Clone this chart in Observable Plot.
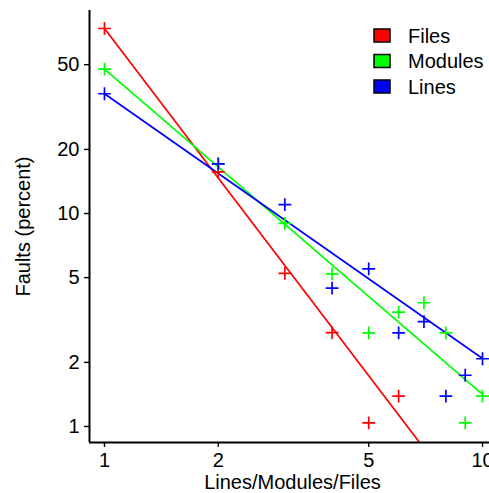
<!DOCTYPE html>
<html><head><meta charset="utf-8">
<script src="https://cdn.jsdelivr.net/npm/d3@7"></script>
<script src="https://cdn.jsdelivr.net/npm/@observablehq/plot@0.6"></script>
<style>
body{margin:0;background:#fff;overflow:hidden;font-family:"Liberation Sans",Arial,sans-serif;}
#chart{position:relative;width:489px;height:493px;}
</style></head><body><div id="chart"></div>
<script>
const series = ["Files", "Modules", "Lines"];
const colors = ["#ff0000", "#00ff00", "#0000ff"];
const filesX = [1, 2, 3, 4, 5, 6];
const filesY = [73.9, 15.7, 5.23, 2.76, 1.04, 1.39];
const modulesX = [1, 2, 3, 4, 5, 6, 7, 8, 9, 10];
const modulesY = [47.6, 17.1, 8.98, 5.21, 2.75, 3.44, 3.81, 2.75, 1.04, 1.39];
const linesX = [1, 2, 3, 4, 5, 6, 7, 8, 9, 10];
const linesY = [36.5, 17.1, 11.0, 4.46, 5.50, 2.75, 3.11, 1.39, 1.74, 2.08];
// fitted power-law lines: value at x = 1 and log-log slope
const fitAt1 = [74.0, 47.6, 36.5];
const fitSlope = [-2.333, -1.527, -1.243];
const fitRange = [1, 10];
const xTicks = [1, 2, 5, 10];
const yTicks = [1, 2, 5, 10, 20, 50];
const xTitle = "Lines/Modules/Files";
const yTitle = "Faults (percent)";

const seriesX = [filesX, modulesX, linesX];
const seriesY = [filesY, modulesY, linesY];
const points = [];
series.forEach((s, i) => seriesX[i].forEach((x, j) => points.push({series: s, x, y: seriesY[i][j]})));
const fits = [];
series.forEach((s, i) => fitRange.forEach(x => fits.push({series: s, x, y: fitAt1[i] * Math.pow(x, fitSlope[i])})));

const xDomain = [0.9128, 10.435];
const yDomain = [0.841, 89.8];
const FONT = "Liberation Sans, Arial, Helvetica, sans-serif";

const chart = Plot.plot({
  width: 489, height: 493,
  marginLeft: 89, marginRight: 0, marginTop: 10, marginBottom: 51,
  style: {fontFamily: FONT, fontSize: "20px", color: "#000", background: "#fff", overflow: "hidden"},
  x: {type: "log", domain: xDomain},
  y: {type: "log", domain: yDomain},
  color: {domain: series, range: colors},
  marks: [
    Plot.axisX({ticks: xTicks, tickSize: 5, tickPadding: 5, tickFormat: d => String(d), label: null, fontSize: 20, strokeWidth: 1.4}),
    Plot.axisY({ticks: yTicks, tickSize: 5, tickPadding: 5, tickFormat: d => String(d), label: null, fontSize: 20, strokeWidth: 1.4}),
    Plot.line(fits, {x: "x", y: "y", z: "series", stroke: "series", strokeWidth: 1.7, clip: true}),
    Plot.dot(points, {x: "x", y: "y", stroke: "series", symbol: "plus", r: 4.2, strokeWidth: 1.7}),
    Plot.ruleX([xDomain[0]], {stroke: "#000", strokeWidth: 2}),
    Plot.ruleY([yDomain[0]], {stroke: "#000", strokeWidth: 2}),
    Plot.text([xTitle], {frameAnchor: "bottom", lineAnchor: "bottom", dy: 46, dx: 3, fontSize: 20, fill: "#000"}),
    Plot.text([yTitle], {frameAnchor: "left", textAnchor: "middle", lineAnchor: "middle", rotate: -90, dx: -66, fontSize: 20, fill: "#000"})
  ]
});
document.getElementById("chart").appendChild(chart);

// legend inside the plot area
const svg = d3.select(chart.tagName.toLowerCase() === "svg" ? chart : chart.querySelector("svg"));
const lg = svg.append("g").attr("font-family", FONT).attr("font-size", 20).attr("text-anchor", "start");
series.forEach((s, i) => {
  const cy = 35.5 + i * 25.5;
  lg.append("rect").attr("x", 374).attr("y", cy - 6.5).attr("width", 16).attr("height", 13)
    .attr("fill", colors[i]).attr("stroke", "#000").attr("stroke-width", 1.5);
  lg.append("text").attr("x", 408).attr("y", cy).attr("dy", "0.35em").attr("fill", "#000").attr("text-anchor", "start").text(s);
});
</script></body></html>
